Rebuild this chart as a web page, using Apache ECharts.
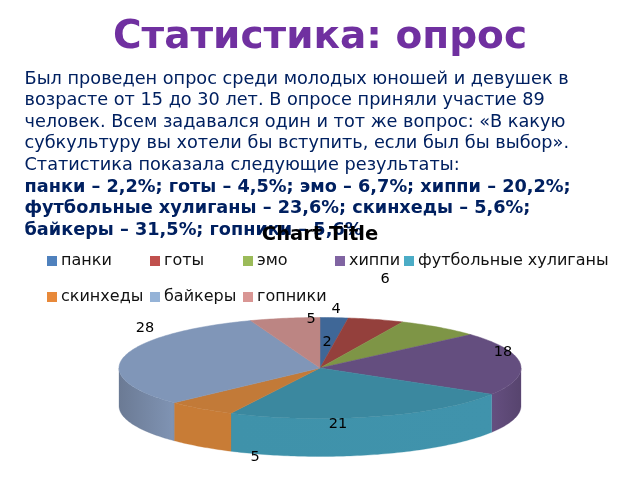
<!DOCTYPE html>
<html><head><meta charset="utf-8">
<style>html,body{margin:0;padding:0;background:#fff}#c{width:640px;height:480px}</style>
<script src="https://cdn.jsdelivr.net/npm/echarts@6/dist/echarts.min.js"></script>
</head><body><div id="c"></div>
<script>
const categories = ['панки','готы','эмо','хиппи','футбольные хулиганы','скинхеды','байкеры','гопники'];
const values = [2,4,6,18,21,5,28,5];
const heading = 'Статистика: опрос';
const chartTitle = 'Chart Title';
const bodyLines = [
 'Был проведен опрос среди молодых юношей и девушек в',
 'возрасте от 15 до 30 лет. В опросе приняли участие 89',
 'человек. Всем задавался один и тот же вопрос: «В какую',
 'субкультуру вы хотели бы вступить, если был бы выбор».',
 'Статистика показала следующие результаты:'];
const boldLines = [
 'панки – 2,2%; готы – 4,5%; эмо – 6,7%; хиппи – 20,2%;',
 'футбольные хулиганы – 23,6%; скинхеды – 5,6%;',
 'байкеры – 31,5%; гопники – 5,6%'];

// styling
const legendColors = ['#4F81BD','#C0504D','#9BBB59','#8064A2','#4BACC6','#E8893A','#95B3D7','#D99694'];
const topColors = ['#3F6797','#94403C','#7E9546','#644E7F','#3B889F','#C27A38','#8096B8','#BC8583'];
const wallColors = [['#3F6797','#3F6797'],['#94403C','#94403C'],['#7E9546','#7E9546'],['#654F80','#57446E'],['#3F92AA','#4093AC'],['#C87C36','#C87C36'],['#6B7A94','#8094B4'],['#BC8583','#BC8583']];
const legendPlaces = [[47,253],[150,253],[243,253],[335,253],[404,253],[47,289],[150,289],[243,289]];
const labelShift = [[7,-26],[16,-59],[65,-89],[183,-16],[18,56],[-65,89],[-175,-40],[-9,-49]];
const CX=320, CY=368, RX=201, RY=50.5, DEPTH=38;
const total = values.reduce((a,b)=>a+b,0);
const pt=(deg,dy)=>{const r=deg*Math.PI/180;return [CX+RX*Math.sin(r),CY-RY*Math.cos(r)+(dy||0)];};
function arc(a,b,dy){const n=Math.max(2,Math.ceil(Math.abs(b-a)));const o=[];for(let i=0;i<=n;i++)o.push(pt(a+(b-a)*i/n,dy));return o;}

function renderSlice(params,api){
  const i=params.seriesIndex, v=api.value(0);
  const before=values.slice(0,i).reduce((a,b)=>a+b,0);
  const a0=before/total*360, a1=(before+v)/total*360;
  const children=[];
  const w0=Math.max(a0,90), w1=Math.min(a1,270);
  if(w1>w0){
    const pts=arc(w0,w1,0).concat(arc(w1,w0,DEPTH));
    children.push({type:'polygon',z2:1,shape:{points:pts},style:{
      fill:new echarts.graphic.LinearGradient(0,0,1,0,[{offset:0,color:wallColors[i][0]},{offset:1,color:wallColors[i][1]}]),
      stroke:wallColors[i][0],lineWidth:0.3}});
  }
  children.push({type:'polygon',z2:2,shape:{points:[[CX,CY]].concat(arc(a0,a1,0))},style:{fill:topColors[i],stroke:topColors[i],lineWidth:0.5}});
  children.push({type:'text',z2:5,style:{text:String(v),x:CX+labelShift[i][0],y:CY+labelShift[i][1],
    align:'center',verticalAlign:'middle',font:'14.5px "DejaVu Sans"',fill:'#000'}});
  return {type:'group',children};
}

const LH=21.6, Y0=79;
const textTitles=[
 {text:heading,left:'center',top:18,textStyle:{fontFamily:'DejaVu Sans',fontWeight:'bold',fontSize:39,color:'#7030A0'},padding:0}];
bodyLines.forEach((t,i)=>textTitles.push({text:t,left:24.5,top:Y0+i*LH-9,padding:0,textStyle:{fontFamily:'DejaVu Sans',fontSize:17.7,fontWeight:'normal',color:'#002060'}}));
boldLines.forEach((t,i)=>textTitles.push({text:t,left:24.5,top:Y0+(i+5)*LH-9,padding:0,textStyle:{fontFamily:'DejaVu Sans',fontSize:17.7,fontWeight:'bold',color:'#002060'}}));
textTitles.push({text:chartTitle,left:'center',top:225,padding:0,z:10,textStyle:{fontFamily:'DejaVu Sans',fontWeight:'bold',fontSize:19.5,color:'#000'}});

const chart=echarts.init(document.getElementById('c'));
chart.setOption({
  animation:false,
  backgroundColor:'#fff',
  color:legendColors,
  title:textTitles,
  legend:categories.map((c,i)=>({data:[c],left:legendPlaces[i][0],top:legendPlaces[i][1],orient:'horizontal',padding:0,
    itemWidth:10,itemHeight:10,itemGap:0,icon:'rect',selectedMode:false,
    textStyle:{fontFamily:'DejaVu Sans',fontSize:16,color:'#111',padding:[0,0,0,-1]}})),
  series:categories.map((c,i)=>({type:'custom',name:c,coordinateSystem:'none',silent:true,
    data:[[values[i]]],renderItem:renderSlice}))
});
</script></body></html>
